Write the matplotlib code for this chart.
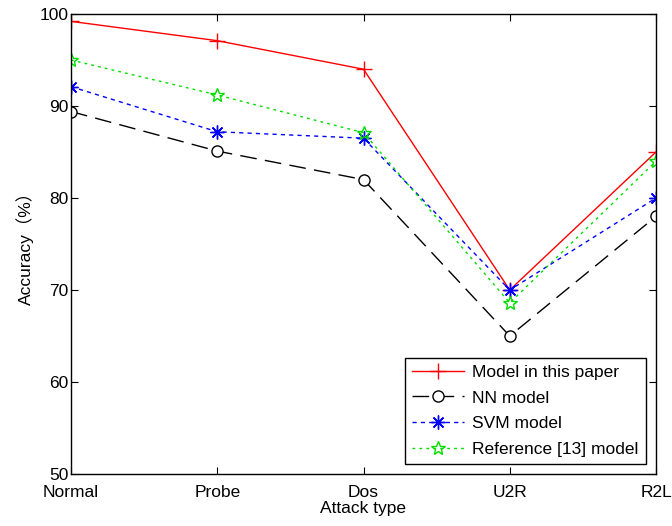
import matplotlib
matplotlib.use("Agg")
import matplotlib.pyplot as plt

plt.rcParams['font.family'] = ['Liberation Sans', 'Noto Sans CJK SC', 'DejaVu Sans']

attack_types = ["Normal", "Probe", "Dos", "U2R", "R2L"]
model_paper = [99.2, 97.1, 94.0, 70.0, 85.0]
nn_model = [89.4, 85.1, 82.0, 65.0, 78.0]
svm_model = [92.1, 87.2, 86.5, 70.0, 80.0]
ref13_model = [95.0, 91.2, 87.1, 68.6, 84.0]

x = range(len(attack_types))

fig = plt.figure(figsize=(6.72, 5.26), dpi=100)
ax = fig.add_axes([71 / 672, 1 - 474 / 526, (656 - 71) / 672, (474 - 14) / 526])

ax.plot(x, model_paper, color="red", linestyle="-", linewidth=1,
        marker="+", markersize=11, label="Model in this paper")
ax.plot(x, nn_model, color="black", linestyle=(0, (12, 6)), linewidth=1,
        marker="o", markersize=8, markerfacecolor="white", label="NN model")
ax.plot(x, svm_model, color="blue", linestyle=(0, (3, 3)), linewidth=1,
        marker=(8, 2, 0), markersize=10, label="SVM model")
ax.plot(x, ref13_model, color="#00dd00", linestyle=(0, (2, 3)), linewidth=1,
        marker="*", markersize=10, markerfacecolor="none", label="Reference [13] model")

ax.set_xlim(0, 4)
ax.set_ylim(50, 100)
ax.set_xticks(list(x))
ax.set_xticklabels(attack_types)
ax.set_yticks([50, 60, 70, 80, 90, 100])
ax.tick_params(direction="in", top=True, right=True, labelsize=12.5, length=5)
ax.tick_params(axis="x", pad=8)
ax.tick_params(axis="y", pad=2)
for s in ax.spines.values():
    s.set_linewidth(1)
ax.set_xlabel("Attack type", fontsize=12.5, labelpad=1)
ax.set_ylabel("Accuracy（%）", fontsize=12.5, labelpad=4)

leg = ax.legend(loc="lower right", fontsize=12.5, handlelength=3, fancybox=False,
                edgecolor="black", framealpha=1, borderaxespad=0.6,
                labelspacing=0.6, handletextpad=0.5)
leg.get_frame().set_linewidth(1)

fig.savefig("out.png", dpi=100)
